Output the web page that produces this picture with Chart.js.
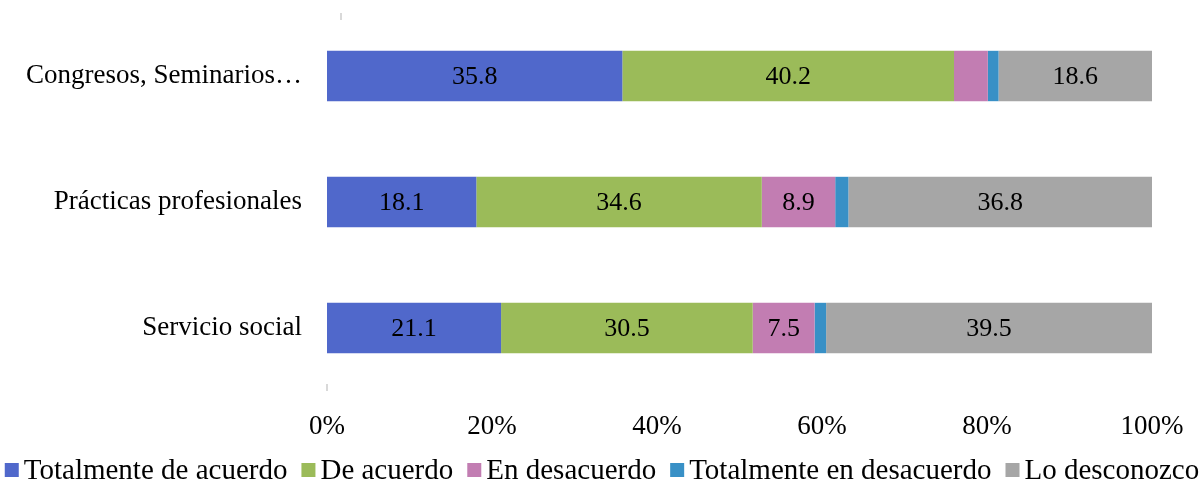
<!DOCTYPE html>
<html>
<head>
<meta charset="utf-8">
<script src="https://cdn.jsdelivr.net/npm/chart.js@4"></script>
<style>
html,body{margin:0;padding:0;background:#fff;}
#wrap{width:1204px;height:482px;position:relative;}
</style>
</head>
<body>
<div id="wrap"><canvas id="c" width="1204" height="482"></canvas></div>
<script>
const categories = ["Congresos, Seminarios…", "Prácticas profesionales", "Servicio social"];
const seriesNames = ["Totalmente de acuerdo", "De acuerdo", "En desacuerdo", "Totalmente en desacuerdo", "Lo desconozco"];
const totalmenteDeAcuerdo = [35.8, 18.1, 21.1];
const deAcuerdo = [40.2, 34.6, 30.5];
const enDesacuerdo = [4.1, 8.9, 7.5];
const totalmenteEnDesacuerdo = [1.3, 1.6, 1.4];
const loDesconozco = [18.6, 36.8, 39.5];
const tickLabels = ["0%", "20%", "40%", "60%", "80%", "100%"];
const colors = ["#5068CB", "#9BBB59", "#C27DB2", "#3890C6", "#A6A6A6"];

const FONT = "'Liberation Serif', 'DejaVu Serif', serif";
const allSeries = [totalmenteDeAcuerdo, deAcuerdo, enDesacuerdo, totalmenteEnDesacuerdo, loDesconozco];

const labelPlugin = {
  id: 'segLabels',
  afterDatasetsDraw(chart) {
    const ctx = chart.ctx;
    ctx.save();
    ctx.font = "26px " + FONT;
    ctx.fillStyle = "#000";
    ctx.textAlign = "center";
    ctx.textBaseline = "middle";
    chart.data.datasets.forEach((ds, i) => {
      const meta = chart.getDatasetMeta(i);
      meta.data.forEach((bar, j) => {
        const v = ds.data[j];
        if (v < 5) return;
        const x = (bar.x + bar.base) / 2;
        ctx.fillText(v.toFixed(1), x, bar.y + 1);
      });
    });
    ctx.restore();
  }
};

const legendPlugin = {
  id: 'customLegend',
  afterDraw(chart) {
    const ctx = chart.ctx;
    ctx.save();
    ctx.font = "29px " + FONT;
    ctx.textBaseline = "middle";
    ctx.textAlign = "left";
    const box = 14, gapBoxText = 5, gapItems = 14;
    const items = chart.data.datasets.map(ds => ({ text: ds.label, color: ds.backgroundColor, w: ctx.measureText(ds.label).width }));
    let total = items.reduce((a, it) => a + box + gapBoxText + it.w, 0) + gapItems * (items.length - 1);
    let x = (chart.width - total) / 2;
    const cy = 470;
    items.forEach(it => {
      ctx.fillStyle = it.color;
      ctx.fillRect(x, cy - box / 2, box, box);
      ctx.fillStyle = "#000";
      ctx.fillText(it.text, x + box + gapBoxText, cy + 1);
      x += box + gapBoxText + it.w + gapItems;
    });
    ctx.restore();
  }
};

const axisMarks = {
  id: 'axisMarks',
  afterDraw(chart) {
    const ctx = chart.ctx;
    const a = chart.chartArea;
    ctx.save();
    ctx.strokeStyle = "#D9D9D9";
    ctx.lineWidth = 2;
    ctx.beginPath();
    ctx.moveTo(a.left + 14, a.top);
    ctx.lineTo(a.left + 14, a.top + 7);
    ctx.moveTo(a.left, a.bottom - 7);
    ctx.lineTo(a.left, a.bottom);
    ctx.stroke();
    ctx.restore();
  }
};

new Chart(document.getElementById('c'), {
  type: 'bar',
  data: {
    labels: categories,
    datasets: seriesNames.map((n, i) => ({
      label: n,
      data: allSeries[i],
      backgroundColor: colors[i],
      borderWidth: 0,
      barPercentage: 0.8,
      categoryPercentage: 0.5
    }))
  },
  options: {
    indexAxis: 'y',
    responsive: false,
    animation: false,
    layout: { padding: { top: 13, right: 52, left: 0, bottom: 36 } },
    scales: {
      x: {
        stacked: true,
        min: 0, max: 100,
        grid: { display: false, drawTicks: false },
        border: { display: false },
        ticks: {
          stepSize: 20,
          color: '#000',
          font: { family: FONT, size: 27 },
          padding: 20,
          maxRotation: 0,
          callback: (v, i) => tickLabels[i]
        },
        afterFit(s) { s.height = 55; s.paddingLeft = 0; s.paddingRight = 0; }
      },
      y: {
        stacked: true,
        grid: { display: false, drawTicks: false },
        border: { display: false },
        ticks: {
          color: '#000',
          font: { family: FONT, size: 27 },
          padding: 25
        },
        afterFit(s) { s.width = 327; s.paddingTop = 0; s.paddingBottom = 0; }
      }
    },
    plugins: {
      legend: { display: false },
      tooltip: { enabled: false }
    }
  },
  plugins: [labelPlugin, legendPlugin, axisMarks]
});
</script>
</body>
</html>
